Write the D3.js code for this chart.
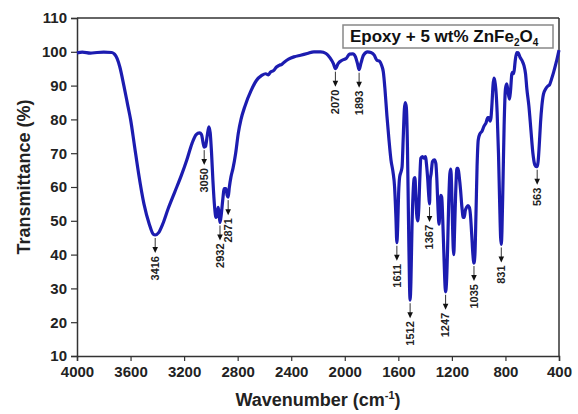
<!DOCTYPE html>
<html><head><meta charset="utf-8">
<script src="https://cdn.jsdelivr.net/npm/d3@7"></script>
<style>body{margin:0;background:#fff}svg{display:block}</style>
</head><body>
<svg id="chart" width="578" height="414"></svg>
<script>
// ---- data ----
const wavenumbers = [4000,3960,3900,3850,3800,3740,3720,3700,3680,3650,3620,3600,3570,3540,3500,3460,3430,3416,3390,3360,3320,3270,3220,3180,3140,3110,3085,3070,3058,3050,3040,3028,3015,3005,2995,2985,2972,2962,2952,2945,2938,2932,2922,2912,2900,2888,2878,2871,2862,2850,2835,2815,2795,2775,2745,2700,2660,2620,2590,2570,2555,2530,2510,2490,2470,2450,2420,2380,2330,2280,2230,2180,2140,2110,2085,2070,2050,2020,1990,1965,1940,1920,1905,1893,1880,1860,1830,1805,1780,1760,1740,1725,1712,1700,1685,1670,1655,1640,1628,1618,1611,1605,1598,1590,1580,1572,1563,1555,1548,1540,1532,1524,1516,1512,1506,1498,1490,1482,1476,1470,1463,1456,1448,1440,1432,1420,1408,1398,1388,1380,1372,1367,1362,1355,1345,1330,1320,1312,1303,1296,1290,1282,1276,1268,1258,1250,1247,1240,1232,1224,1215,1208,1202,1196,1190,1186,1180,1172,1162,1154,1145,1135,1125,1115,1108,1100,1090,1080,1070,1062,1052,1043,1035,1028,1020,1012,1003,990,975,960,945,932,922,915,908,900,893,886,880,872,862,852,843,836,831,826,818,810,800,790,780,770,762,752,745,738,728,716,705,690,675,662,650,640,625,610,595,580,568,563,556,548,538,528,516,500,485,470,455,440,420,400];
const transmittance = [99.7,99.9,99.6,99.8,99.9,99.8,99.3,98,95.5,90,84,80,72,64,55,49,46,45.8,46.5,49,53.5,58.5,63.5,68,73,75.5,76,75.5,73,71.8,72,75,77.8,76,70,62,54,51,52.5,54,51.5,49.5,52,56,59.5,59.5,57.5,57,60,63,65.5,70,76,80,84,88.5,91.5,93,93.5,93.2,94,94.5,95.5,96,96.3,97,97.8,98.5,99,99.5,100,100,99.5,98.2,96.5,95,96.5,97.5,98,99.3,99.4,98.5,96.5,94.7,96.5,99,100,99.8,99,97.5,97.2,96,94,89,81,74,68,64.5,60,51,43.5,48,58,63,64.5,66,75,83,85,83.5,72,50,30,26.5,32,48,58,62.5,62.8,58,52,50,53,62,68.5,69,68.5,69,66,62,57,55,62,64,67.5,68,67,62,53,49,53,57.5,57,50,38,30,29,32,42,55,64,65.3,60,50,42,40,47,58,65.5,65.5,63,59,54,51,51,53,54,54.5,54,52,46,40,37.5,40,52,66,74,75.8,76.5,78,79,80.5,80.5,79.5,80.5,85,90,92.2,91.5,89,82,70,55,45,43,47,62,78,89,90.5,88,86,88.5,93.5,94,93.5,97,99.8,99.7,98.3,97.3,96,93.5,89,84,77,70,66.5,66,66,67.5,72,79,84,87.5,89,89.8,90.3,92,94,97,100.5];
const peakLabels = ["3416","3050","2932","2871","2070","1893","1611","1512","1367","1247","1035","831","563"];
const peakWavenumbers = [3416,3050,2932,2871,2070,1893,1611,1512,1367,1247,1035,831,563];
const peakMinima = [45.8,71.8,49.5,57,95,94.7,43.5,26.5,55,29,37.5,43,66];
const xTickValues = [4000,3600,3200,2800,2400,2000,1600,1200,800,400];
const yTickValues = [10,20,30,40,50,60,70,80,90,100,110];

// ---- layout ----
const FONT = "'Liberation Sans', Arial, Helvetica, sans-serif";
const svg = d3.select("#chart");
const L = 77, R = 559, T = 18, B = 356;
const x = d3.scaleLinear().domain([4000, 400]).range([L, R]);
const y = d3.scaleLinear().domain([10, 110]).range([B, T]);
const axisColor = "#333";

// frame top/right
svg.append("line").attr("x1", L).attr("x2", R).attr("y1", T).attr("y2", T)
  .attr("stroke", axisColor).attr("stroke-width", 1.5);
svg.append("line").attr("x1", R).attr("x2", R).attr("y1", T).attr("y2", B)
  .attr("stroke", axisColor).attr("stroke-width", 1.5);

// axes
const gx = svg.append("g").attr("transform", `translate(0,${B})`)
  .call(d3.axisBottom(x).tickValues(xTickValues).tickSize(5).tickPadding(5).tickFormat(d3.format("d")));
const gy = svg.append("g").attr("transform", `translate(${L},0)`)
  .call(d3.axisLeft(y).tickValues(yTickValues).tickSize(6).tickPadding(4).tickFormat(d3.format("d")));
[gx, gy].forEach(g => {
  g.select(".domain").attr("stroke", axisColor).attr("stroke-width", 1.5);
  g.selectAll(".tick line").attr("stroke", axisColor).attr("stroke-width", 1.2);
  g.selectAll(".tick text").attr("font-family", FONT).attr("font-size", 15)
    .attr("font-weight", "bold").attr("fill", "#222");
});

// axis titles
svg.append("text").attr("x", (L + R) / 2).attr("y", 406).attr("text-anchor", "middle")
  .attr("font-family", FONT).attr("font-size", 18).attr("font-weight", "bold").attr("fill", "#222")
  .call(t => {
    t.append("tspan").text("Wavenumber (cm");
    t.append("tspan").text("-1").attr("font-size", 11).attr("dy", -7);
    t.append("tspan").text(")").attr("dy", 7);
  });
svg.append("text").attr("transform", `translate(30,177) rotate(-90)`).attr("text-anchor", "middle")
  .attr("font-family", FONT).attr("font-size", 18).attr("font-weight", "bold").attr("fill", "#222")
  .text("Transmittance (%)");

// spectrum
const pts = wavenumbers.map((w, i) => [w, transmittance[i]]);
const line = d3.line().x(d => x(d[0])).y(d => y(d[1])).curve(d3.curveMonotoneX);
svg.append("path").datum(pts).attr("d", line).attr("fill", "none")
  .attr("stroke", "#1c1cb0").attr("stroke-width", 3.2).attr("stroke-linejoin", "round");

// peak annotations
peakWavenumbers.forEach((w, i) => {
  const px = x(w), py = y(peakMinima[i]);
  const g = svg.append("g");
  g.append("line").attr("x1", px).attr("x2", px).attr("y1", py + 3).attr("y2", py + 13)
    .attr("stroke", "#333").attr("stroke-width", 1);
  g.append("path").attr("d", `M${px - 2.8},${py + 12}L${px + 2.8},${py + 12}L${px},${py + 18}Z`).attr("fill", "#111");
  g.append("text").attr("transform", `translate(${px},${py + 21}) rotate(-90)`)
    .attr("text-anchor", "end").attr("dy", "0.35em")
    .attr("font-family", FONT).attr("font-size", 11).attr("font-weight", "bold").attr("fill", "#222")
    .text(peakLabels[i]);
});

// legend box
svg.append("rect").attr("x", 343).attr("y", 25).attr("width", 210).attr("height", 23)
  .attr("fill", "#fff").attr("stroke", "#888").attr("stroke-width", 1.5);
svg.append("text").attr("x", 350).attr("y", 42).attr("font-family", FONT).attr("font-size", 17)
  .attr("font-weight", "bold").attr("fill", "#111")
  .call(t => {
    t.append("tspan").text("Epoxy + 5 wt% ZnFe");
    t.append("tspan").text("2").attr("font-size", 10).attr("dy", 4);
    t.append("tspan").text("O").attr("dy", -4);
    t.append("tspan").text("4").attr("font-size", 10).attr("dy", 4);
  });
</script>
</body></html>
